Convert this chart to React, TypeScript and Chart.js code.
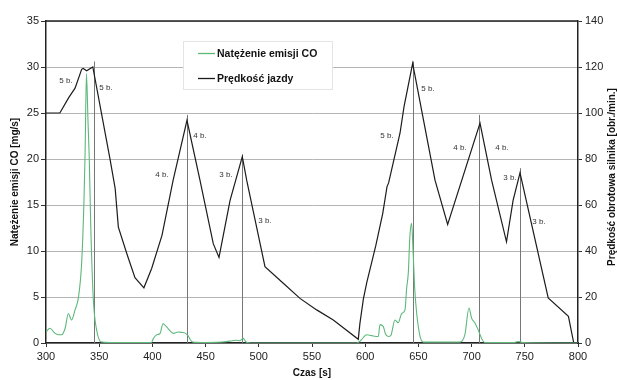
import React, { useEffect, useRef } from 'react';
import { Chart, registerables } from 'chart.js';

Chart.register(...registerables);

const FONT = "'Liberation Sans', Arial, Helvetica, sans-serif";

// CO emission rate [mg/s] (left axis)
const coTime = [300, 303.8, 308, 311.6, 314.7, 318, 321, 324, 327.3, 330.4, 333.5, 335.7, 336.8, 338, 339.5, 340.7, 342, 344.5, 347.6, 352, 360, 380, 399, 401, 404, 407, 410, 413, 416, 419.6, 424, 428, 430.3, 433.5, 436, 438, 450, 469.8, 475, 479, 482, 485.4, 488, 492, 540, 592, 596, 601.4, 606, 612.3, 613.9, 617, 619, 621.6, 624, 628, 631, 634.3, 637.4, 639, 640.5, 642, 643.6, 645, 646.5, 648.4, 651.6, 654.8, 689, 693.7, 697.5, 700, 703, 706.3, 709.4, 712.5, 740, 744, 748, 800];
const coValues = [1.2, 1.6, 1.1, 0.9, 0.9, 1.6, 3.2, 2.5, 3.6, 4.9, 8.7, 15.5, 21, 29.3, 24, 19.9, 13, 4.7, 1.4, 0.1, 0.05, 0.05, 0.05, 0.5, 0.9, 1.0, 2.1, 1.8, 1.4, 1.05, 1.2, 1.15, 1.1, 0.8, 0.3, 0.1, 0.05, 0.15, 0.25, 0.3, 0.25, 0.5, 0.1, 0, 0, 0, 0.3, 0.9, 0.8, 0.7, 2.0, 1.8, 1.0, 0.7, 0.8, 2.5, 2.2, 3.2, 3.6, 6, 7.6, 11.6, 13.0, 10, 6, 3.2, 0.7, 0.1, 0.1, 0.9, 3.8, 2.7, 2.2, 1.4, 0.5, 0.05, 0.05, 0.15, 0.05, 0];

// Engine speed [obr./min.] (right axis)
const speedTime = [300, 313, 321.5, 327.3, 333.5, 335, 338.2, 344, 360, 365, 368, 376, 383.6, 392, 399.3, 409, 419.5, 432.5, 444.7, 457.2, 462.6, 473, 484.5, 488.6, 505.8, 523, 538.7, 554.4, 570, 593.5, 595, 598.3, 601.5, 606, 610, 616.5, 620.5, 622, 632.7, 636.5, 644.6, 665.6, 677.5, 707.9, 718.8, 732.8, 739, 745.5, 772, 791, 796, 800];
const speedValues = [100, 100, 106.8, 110.8, 119, 119.4, 118.4, 120, 80.4, 67.2, 50.4, 38.8, 28.4, 24, 32.4, 46.8, 70.8, 96.8, 70.8, 43.2, 37.2, 62, 81, 70.8, 33.2, 26, 19.4, 14.4, 10, 1.6, 8.4, 19.2, 26.4, 34.8, 42.4, 56.4, 68, 69.6, 91.2, 102.8, 121.6, 70.8, 51.6, 95.6, 70.8, 44, 62, 74, 19.6, 11.6, 0, 0];

// vertical marker lines at gear-change peaks (time, top in mg/s units)
const dropTime = [345, 432.8, 484, 644.6, 707.2, 745.5];
const dropTop = [30.6, 24.8, 20.5, 30.6, 24.8, 19.0];

// gear annotations (time, level in mg/s units)
const gearText = ['5 b.', '5 b.', '4 b.', '4 b.', '3 b.', '3 b.', '5 b.', '5 b.', '4 b.', '4 b.', '3 b.', '3 b.'];
const gearTime = [318.8, 356.4, 409, 444.7, 469.2, 505.8, 620.5, 659, 689, 728.6, 736, 763.3];
const gearLevel = [28.5, 27.7, 18.3, 22.5, 18.3, 13.3, 22.5, 27.6, 21.2, 21.2, 18.0, 13.2];

const seriesLabels = ['Natężenie emisji CO', 'Prędkość jazdy'];
const xTitle = 'Czas [s]';
const yTitle = 'Natężenie emisji CO [mg/s]';
const y1Title = 'Prędkość obrotowa silnika [obr./min.]';

const GREEN = '#5cb87a';
const BLACK = '#1c1c1c';

const decorPlugin = {
  id: 'decor',
  beforeDatasetsDraw(chart: any) {
    const { ctx, chartArea, scales } = chart;
    const x = scales.x;
    const y = scales.y;
    ctx.save();
    ctx.strokeStyle = '#777';
    ctx.lineWidth = 1;
    for (let i = 0; i < dropTime.length; i++) {
      const px = Math.round(x.getPixelForValue(dropTime[i])) + 0.5;
      ctx.beginPath();
      ctx.moveTo(px, y.getPixelForValue(0));
      ctx.lineTo(px, y.getPixelForValue(dropTop[i]));
      ctx.stroke();
    }
    // top frame
    ctx.strokeStyle = '#222';
    ctx.lineWidth = 1.5;
    ctx.beginPath();
    ctx.moveTo(chartArea.left, chartArea.top);
    ctx.lineTo(chartArea.right, chartArea.top);
    ctx.stroke();
    ctx.restore();
  },
  afterDraw(chart: any) {
    const { ctx, scales, chartArea } = chart;
    const x = scales.x;
    const y = scales.y;
    ctx.save();
    // gear labels
    ctx.fillStyle = '#333';
    ctx.font = `8px ${FONT}`;
    ctx.textAlign = 'center';
    ctx.textBaseline = 'middle';
    for (let i = 0; i < gearText.length; i++) {
      ctx.fillText(gearText[i], x.getPixelForValue(gearTime[i]), y.getPixelForValue(gearLevel[i]));
    }
    // legend
    const lx = 183, ly = 41, lw = 149, lh = 48;
    ctx.fillStyle = '#fff';
    ctx.fillRect(lx, ly, lw, lh);
    ctx.strokeStyle = '#e4e4e4';
    ctx.lineWidth = 1;
    ctx.strokeRect(lx + 0.5, ly + 0.5, lw, lh);
    const colors = [GREEN, BLACK];
    const rows = [53, 78];
    ctx.font = `bold 10.5px ${FONT}`;
    ctx.textAlign = 'left';
    ctx.textBaseline = 'middle';
    for (let i = 0; i < seriesLabels.length; i++) {
      ctx.strokeStyle = colors[i];
      ctx.lineWidth = 1.3;
      ctx.beginPath();
      ctx.moveTo(198, rows[i] + 0.5);
      ctx.lineTo(215, rows[i] + 0.5);
      ctx.stroke();
      ctx.fillStyle = '#111';
      ctx.fillText(seriesLabels[i], 217, rows[i] + 1);
    }
    // right axis title (reading bottom to top)
    ctx.font = `bold 10px ${FONT}`;
    ctx.fillStyle = '#111';
    ctx.textAlign = 'center';
    ctx.translate(612, (chartArea.top + chartArea.bottom) / 2 - 5);
    ctx.rotate(-Math.PI / 2);
    ctx.fillText(y1Title, 0, 0);
    ctx.restore();
  },
};

export default function App() {
  const ref = useRef<HTMLCanvasElement | null>(null);
  useEffect(() => {
    document.body.style.margin = '0';
    const canvas = ref.current;
    if (!canvas) return;
    const tickFont = { family: FONT, size: 11 };
    const chart = new Chart(canvas, {
      type: 'line',
      data: {
        datasets: [
          {
            label: seriesLabels[0],
            data: coTime.map((t, i) => ({ x: t, y: coValues[i] })),
            borderColor: GREEN,
            borderWidth: 1.1,
            pointRadius: 0,
            cubicInterpolationMode: 'monotone',
            yAxisID: 'y',
          },
          {
            label: seriesLabels[1],
            data: speedTime.map((t, i) => ({ x: t, y: speedValues[i] })),
            borderColor: BLACK,
            borderWidth: 1.2,
            pointRadius: 0,
            tension: 0,
            yAxisID: 'y1',
          },
        ],
      },
      options: {
        animation: false,
        responsive: false,
        layout: { padding: { top: 21, left: 0, right: 0, bottom: 0 } },
        plugins: { legend: { display: false }, tooltip: { enabled: false } },
        scales: {
          x: {
            type: 'linear',
            min: 300,
            max: 800,
            ticks: { stepSize: 50, color: '#222', font: tickFont, padding: 3 },
            grid: { drawOnChartArea: false, tickLength: 4, tickColor: '#333' },
            border: { color: '#222', width: 1.5 },
            title: { display: true, text: xTitle, color: '#111', font: { family: FONT, size: 10, weight: 'bold' }, padding: { top: 0, bottom: 1 } },
            afterFit: (s: any) => { s.height = 37; },
          },
          y: {
            position: 'left',
            min: 0,
            max: 35,
            ticks: { stepSize: 5, color: '#222', font: tickFont, padding: 2 },
            grid: { color: '#b5b5b5', lineWidth: 1, tickLength: 5, tickColor: '#333' },
            border: { color: '#222', width: 1.5 },
            title: { display: true, text: yTitle, color: '#111', font: { family: FONT, size: 10, weight: 'bold' }, padding: { top: 9, bottom: 0 } },
            afterFit: (s: any) => { s.width = 46; },
          },
          y1: {
            position: 'right',
            min: 0,
            max: 140,
            ticks: { stepSize: 20, color: '#222', font: tickFont, padding: 3 },
            grid: { drawOnChartArea: false, tickLength: 4, tickColor: '#333' },
            border: { color: '#222', width: 1.5 },
            afterFit: (s: any) => { s.width = 39; },
          },
        },
      },
      plugins: [decorPlugin],
    } as any);
    return () => chart.destroy();
  }, []);
  return (
    <div style={{ width: 617, height: 380 }}>
      <canvas ref={ref} width={617} height={380} style={{ display: 'block' }} />
    </div>
  );
}
